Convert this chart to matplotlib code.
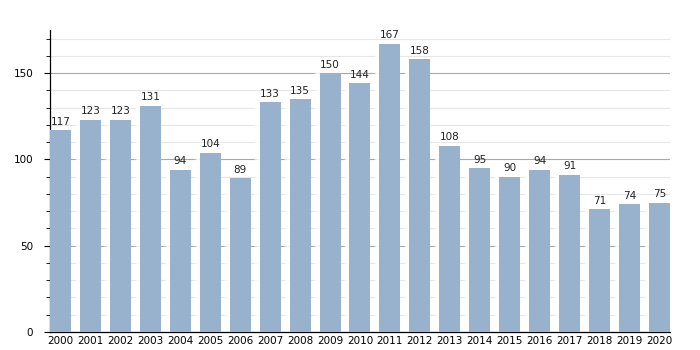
import numpy as np
import matplotlib.pyplot as plt
from matplotlib.ticker import MultipleLocator

# Yearly counts
years = [str(y) for y in range(2000, 2021)]
counts = [117, 123, 123, 131, 94, 104, 89, 133, 135, 150, 144,
          167, 158, 108, 95, 90, 94, 91, 71, 74, 75]

fig = plt.figure(figsize=(7, 3.5), dpi=100)
ax = fig.add_axes([0.0714, 0.0514, 0.8857, 0.863])

x = np.arange(len(years))
bar_color = '#98b2cd'

# soft white halo on the left side of each bar
for k, a in enumerate([0.25, 0.5, 0.8]):
    ax.bar(x - 0.35 - 0.04 * (3 - k), counts, width=0.12, color='white',
           alpha=a, zorder=2, linewidth=0)
ax.bar(x, counts, width=0.7, color=bar_color, zorder=3, linewidth=0)

for xi, v in zip(x, counts):
    ax.text(xi, v + 2, str(v), ha='center', va='bottom', fontsize=7.5,
            color='#222222', zorder=4)

ax.set_xlim(-0.35, len(years) - 0.65)
ax.set_ylim(0, 175)
ax.set_xticks(x)
ax.set_xticklabels(years, fontsize=7.5)
ax.tick_params(axis='x', length=0, pad=3)

ax.yaxis.set_major_locator(MultipleLocator(50))
ax.yaxis.set_minor_locator(MultipleLocator(10))
ax.tick_params(axis='y', which='major', length=4, labelsize=7.5, pad=8)
ax.tick_params(axis='y', which='minor', length=3)

ax.grid(axis='y', which='major', color='#a8a8a8', linewidth=0.8, zorder=0)
ax.grid(axis='y', which='minor', color='#e6e6e6', linewidth=0.8, zorder=0)
ax.set_axisbelow(True)

for s in ['top', 'right']:
    ax.spines[s].set_visible(False)
ax.spines['left'].set_linewidth(0.9)
ax.spines['bottom'].set_linewidth(0.9)

fig.savefig('out.png', dpi=100)
